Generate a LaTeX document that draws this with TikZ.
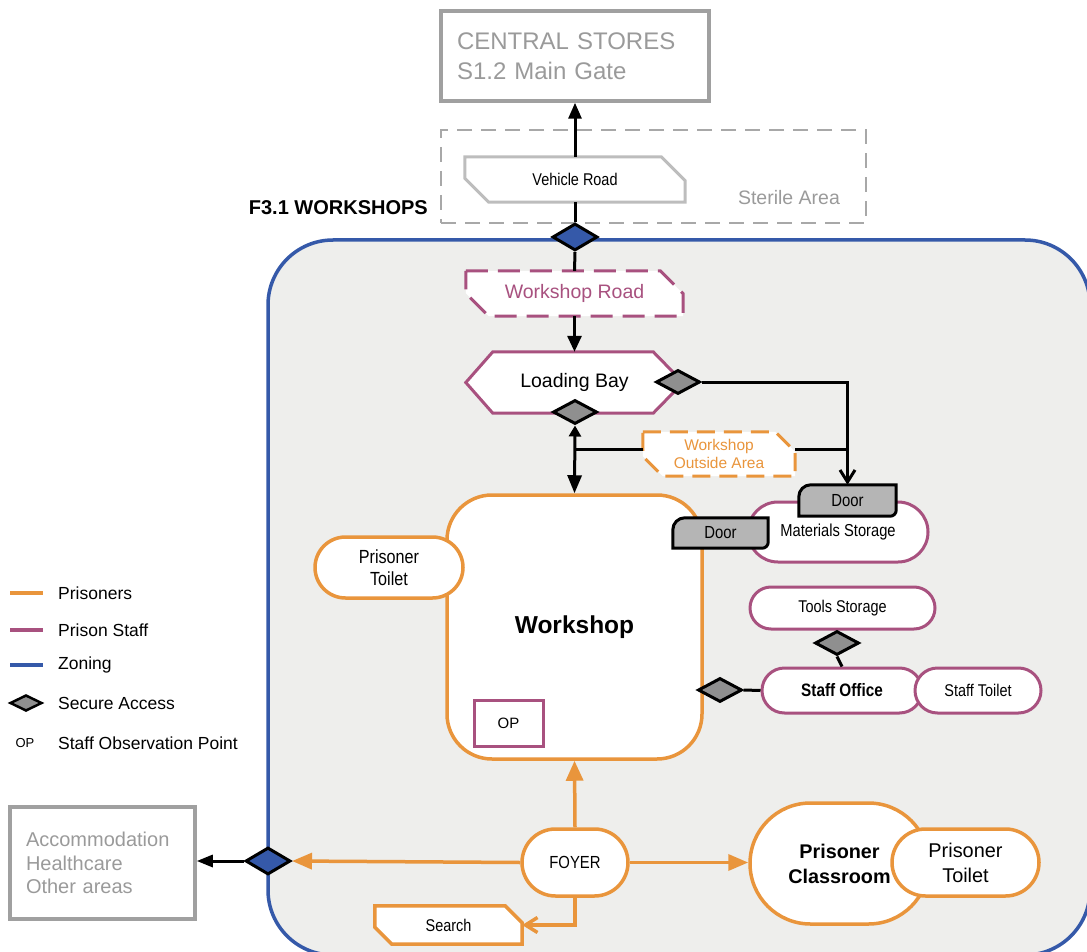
\documentclass[tikz,border=0pt]{standalone}
\usepackage{fontspec}
\setmainfont{Liberation Sans}
\newfontfamily\narrowf{Liberation Sans}[FakeStretch=0.85]
\usetikzlibrary{shapes.geometric,arrows.meta,calc}
\definecolor{orn}{HTML}{E9953C}
\definecolor{mag}{HTML}{A8517F}
\definecolor{blu}{HTML}{3559A9}
\definecolor{zfill}{HTML}{EEEEEC}
\definecolor{gline}{HTML}{A0A0A0}
\definecolor{gtext}{HTML}{9A9A9A}
\definecolor{vrline}{HTML}{BDBDBD}
\definecolor{sterline}{HTML}{A8A8A8}
\definecolor{dfill}{HTML}{8F8F8F}
\definecolor{doorfill}{HTML}{B5B5B5}
\newcommand\fsz[2]{\fontsize{#1pt}{#2pt}\selectfont}
\newcommand\roadpath[3]{\draw[#1] (#2.north west) -- ([xshift=-#3]#2.north east) -- ([yshift=-#3]#2.north east) -- (#2.south east) -- ([xshift=#3]#2.south west) -- ([yshift=#3]#2.south west) -- cycle;}
\newcommand\doorpath[1]{\draw[draw=black, line width=3pt, fill=doorfill] (#1.south west) -- ([yshift=-12pt]#1.north west) arc[start angle=180, end angle=90, radius=12pt] -- (#1.north east) -- ([yshift=6pt]#1.south east) arc[start angle=0, end angle=-90, radius=6pt] -- cycle;}
\tikzset{
  blank/.style={inner sep=0pt, draw=none},
  orbox/.style={draw=orn, line width=3.5pt, fill=white, inner sep=0pt, align=center},
  mgbox/.style={draw=mag, line width=3pt, fill=white, inner sep=0pt, align=center},
  sec/.style={diamond, draw=black, line width=3pt, fill=dfill, inner sep=0pt, minimum width=44pt, minimum height=24pt},
  zsec/.style={sec, fill=blu, minimum width=45pt, minimum height=27pt},
  conn/.style={draw=black, line width=3pt},
  oconn/.style={draw=orn, line width=3.5pt},
  bigtri/.style={-{Triangle[length=16pt,width=13pt]}},
  otri/.style={-{Triangle[length=20pt,width=16pt]}},
  barb/.style={-{Straight Barb[length=12pt,width=15pt]}},
  legtext/.style={anchor=west, inner sep=0pt, font=\fsz{17.5}{20}}
}
\begin{document}
\begin{tikzpicture}[x=1pt,y=-1pt]
\useasboundingbox (0,0) rectangle (1087,952);
\clip (0,0) rectangle (1087,952);
% zoning
\draw[blu, line width=3.5pt, fill=zfill, rounded corners=65pt] (268,240) rectangle (1090,955);
% sterile area and central stores
\node[blank, draw=sterline, line width=2.5pt, dash pattern=on 15pt off 9pt, minimum width=425pt, minimum height=93pt] (ster) at (653.5,176.5) {};
\node[text=gtext, font=\fsz{19.5}{23}] (sterl) at (789,198) {Sterile Area};
\node[draw=gline, line width=3.5pt, minimum width=268pt, minimum height=90pt, inner sep=0pt, text width=236pt, align=left, text=gtext, font=\fsz{24}{30}] (cs) at (575,56) {CENTRAL STORES\\S1.2 Main Gate};
\node[anchor=east, inner sep=0pt, font=\bfseries\fsz{20}{24}] (f31) at (428,208) {F3.1 WORKSHOPS};
% vehicle road
\node[blank, minimum width=220pt, minimum height=45pt] (vr) at (575,179.5) {};
\roadpath{draw=vrline, line width=3pt, fill=white}{vr}{24pt}
\node[font=\narrowf\fsz{17}{20}] (vrt) at (vr) {Vehicle Road};
% workshop road
\node[blank, minimum width=217pt, minimum height=45pt] (wr) at (574.5,293.5) {};
\roadpath{draw=mag, line width=3pt, fill=white, dash pattern=on 22pt off 10pt}{wr}{23pt}
\node[text=mag, font=\fsz{19.5}{23}] (wrt) at (wr) {Workshop Road};
% loading bay
\node[blank, minimum width=217pt, minimum height=61pt] (lb) at (574.5,382.5) {};
\draw[draw=mag, line width=3pt, fill=white] (lb.west) -- ([xshift=27pt]lb.north west) -- ([xshift=-30pt]lb.north east) -- (lb.east) -- ([xshift=-30pt]lb.south east) -- ([xshift=27pt]lb.south west) -- cycle;
\node[font=\fsz{19.5}{23}] (lbt) at (lb) {Loading Bay};
% workshop outside area
\node[blank, minimum width=152pt, minimum height=44pt] (woa) at (719,454) {};
\roadpath{draw=orn, line width=3pt, fill=white, dash pattern=on 18pt off 9pt}{woa}{20pt}
\node[text=orn, align=center, font=\fsz{15.5}{17.5}] (woat) at (woa) {Workshop\\Outside Area};
% materials storage
\node[mgbox, minimum width=180pt, minimum height=60pt, rounded corners=30pt, font=\narrowf\fsz{17.3}{20}] (ms) at (838,532) {Materials Storage};
% workshop
\node[orbox, minimum width=255pt, minimum height=264pt, rounded corners=45pt, font=\bfseries\fsz{24.5}{28}] (ws) at (574.5,627) {Workshop};
\node[draw=mag, line width=3pt, fill=white, inner sep=0pt, minimum width=69pt, minimum height=46pt, font=\fsz{15}{18}] (op) at (508.5,723) {OP};
\node[orbox, minimum width=148pt, minimum height=61pt, rounded corners=30.5pt, font=\narrowf\fsz{19}{22.5}] (pt1) at (389,567.5) {Prisoner\\Toilet};
% doors
\node[blank, minimum width=97pt, minimum height=31pt] (door1) at (847.5,500.5) {};
\doorpath{door1}
\node[font=\narrowf\fsz{17.5}{20}] (door1t) at (door1) {Door};
\node[blank, minimum width=95pt, minimum height=30pt] (door2) at (720.5,533) {};
\doorpath{door2}
\node[font=\narrowf\fsz{17.5}{20}] (door2t) at (door2) {Door};
% staff area
\node[mgbox, minimum width=185pt, minimum height=42pt, rounded corners=21pt, font=\narrowf\fsz{17}{20}] (ts) at (842.5,608) {Tools Storage};
\node[mgbox, minimum width=160pt, minimum height=45pt, rounded corners=22.5pt, font=\narrowf\bfseries\fsz{18}{21}] (so) at (842,690.5) {Staff Office};
\node[mgbox, minimum width=126pt, minimum height=45pt, rounded corners=22.5pt, font=\narrowf\fsz{17}{20}] (st) at (978,690.5) {Staff Toilet};
% foyer area
\node[orbox, minimum width=106pt, minimum height=67pt, rounded corners=33.5pt, font=\narrowf\fsz{17.5}{20}] (foyer) at (575,862.5) {FOYER};
\node[blank, minimum width=147pt, minimum height=38pt] (search) at (448.5,925) {};
\roadpath{draw=orn, line width=3.5pt, fill=white}{search}{17pt}
\node[font=\narrowf\fsz{17}{20}] (searcht) at (search) {Search};
\node[orbox, minimum width=179pt, minimum height=121pt, rounded corners=60.5pt, font=\bfseries\fsz{19.8}{25}] (cls) at (839.5,863.5) {Prisoner\\Classroom};
\node[orbox, minimum width=147pt, minimum height=67pt, rounded corners=33.5pt, font=\fsz{19.9}{25}] (pt2) at (965.5,862.5) {Prisoner\\Toilet};
\node[draw=gline, line width=3.5pt, minimum width=185pt, minimum height=112pt, inner sep=0pt, text width=153pt, align=left, text=gtext, font=\fsz{20}{23.5}] (acc) at (102.5,863) {Accommodation\\Healthcare\\Other areas};
% secure access diamonds
\node[zsec] (bd1) at (575,237) {};
\node[sec] (dR) at (678,382) {};
\node[sec] (dB) at (575,412) {};
\node[sec] (dT) at (837,643) {};
\node[sec] (dS) at (720,690) {};
\node[zsec] (bd2) at (268,861) {};
% connectors
\draw[conn] (bd1.north) -- (vr.south);
\draw[conn, bigtri] (vr.north) -- (cs.south);
\draw[conn] (bd1.south) -- (wr.north);
\draw[conn, -{Triangle[length=16pt,width=14pt]}] (wr.south) -- (lb.north);
\draw[conn, barb] (dR.east) -| (door1.north);
\draw[conn, {Triangle[length=11pt,width=12pt]}-{Triangle[length=18pt,width=14pt]}] (dB.south) -- (ws.north);
\coordinate (j) at (575,449);
\draw[conn] (j) -- (j -| woa.west);
\draw[conn] (woa.east |- j) -- (j -| door1.north);
\draw[conn] (dT.south) -- (so.north);
\draw[conn] (dS.east) -- (so.west);
\draw[oconn, -{Triangle[length=20pt,width=17pt]}] (foyer.north) -- (ws.south);
\draw[oconn, otri] (foyer.west) -- (bd2.east);
\draw[oconn, otri] (foyer.east) -- (foyer.east -| cls.west);
\draw[oconn, barb] (foyer.south) |- (search.east);
\draw[conn, -{Triangle[length=16pt,width=12pt]}] (bd2.west) -- (bd2.west -| acc.east);
% legend
\draw[orn, line width=3.5pt] (10,593) -- (43,593);
\draw[mag, line width=3.5pt] (10,630) -- (43,630);
\draw[blu, line width=3.5pt] (10,665) -- (43,665);
\node[sec, line width=2.5pt, minimum width=32pt, minimum height=16pt] (legd) at (26,703) {};
\node[font=\fsz{13}{16}] (legop) at (25,743) {OP};
\node[legtext] (l1) at (58,593) {Prisoners};
\node[legtext] (l2) at (58,630) {Prison Staff};
\node[legtext] (l3) at (58,665) {Zoning};
\node[legtext] (l4) at (58,703) {Secure Access};
\node[legtext] (l5) at (58,743) {Staff Observation Point};
\end{tikzpicture}
\end{document}
